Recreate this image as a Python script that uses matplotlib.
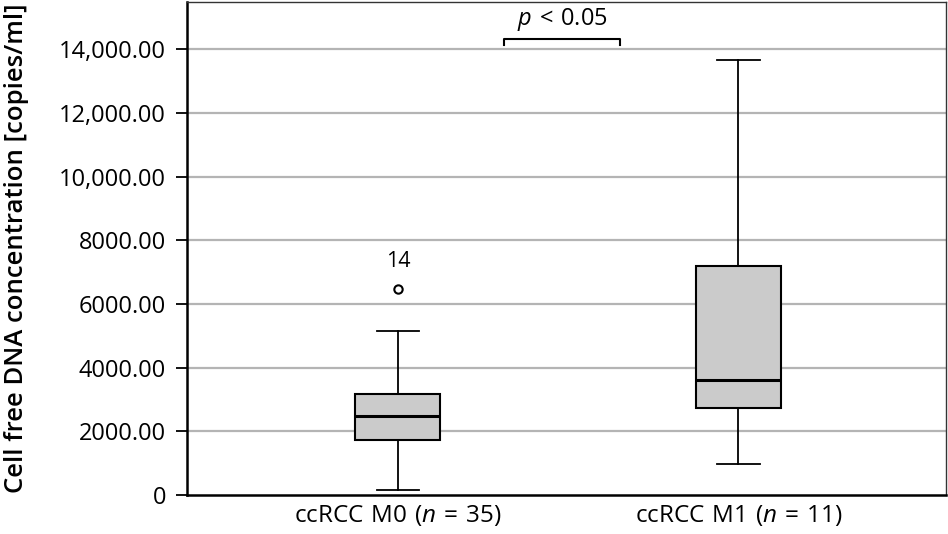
import matplotlib
matplotlib.use("Agg")
import matplotlib.pyplot as plt
from matplotlib.ticker import FuncFormatter

# box statistics
groups = ["ccRCC M0", "ccRCC M1"]
group_n = [35, 11]
whisker_low = [160, 970]
q1 = [1730, 2730]
medians = [2480, 3610]
q3 = [3170, 7190]
whisker_high = [5150, 13650]
outliers = [[6470], []]
outlier_labels = [["14"], []]

y_ticks = [0, 2000, 4000, 6000, 8000, 10000, 12000, 14000]

plt.rcParams["font.family"] = ["Open Sans", "DejaVu Sans"]
plt.rcParams["mathtext.fontset"] = "custom"
plt.rcParams["mathtext.it"] = "Open Sans:italic"
plt.rcParams["mathtext.rm"] = "Open Sans"

SP = "\u2004"  # a bit wider than a normal space, the original font sets them loose

fig = plt.figure(figsize=(9.48, 5.34), dpi=100)
ax = fig.add_axes([0.197, 0.073, 0.801, 0.923])

stats = []
for i, name in enumerate(groups):
    stats.append({
        "label": name,
        "whislo": whisker_low[i],
        "q1": q1[i],
        "med": medians[i],
        "q3": q3[i],
        "whishi": whisker_high[i],
        "fliers": outliers[i],
    })

positions = [1, 2]
ax.bxp(
    stats,
    positions=positions,
    widths=0.25,
    capwidths=0.125,
    patch_artist=True,
    boxprops=dict(facecolor="#cbcbcb", edgecolor="black", linewidth=1.5),
    medianprops=dict(color="black", linewidth=2.2),
    whiskerprops=dict(color="black", linewidth=1.3),
    capprops=dict(color="black", linewidth=1.3),
    flierprops=dict(marker="o", markersize=6, markerfacecolor="white",
                    markeredgecolor="black", markeredgewidth=1.5),
    zorder=3,
)

for pos, vals, labs in zip(positions, outliers, outlier_labels):
    for v, lab in zip(vals, labs):
        ax.annotate(lab, (pos, v), xytext=(0, 12), textcoords="offset points",
                    ha="center", va="bottom", fontsize=15.5)

ax.set_xlim(0.38, 2.61)
ax.set_ylim(0, 15480)
ax.set_yticks(y_ticks)
ax.yaxis.set_major_formatter(FuncFormatter(
    lambda v, _: "0" if v == 0 else (f"{v:,.2f}" if v >= 10000 else f"{v:.2f}")))
ax.set_xticks(positions)
ax.set_xticklabels([f"{g.replace(' ', SP)}{SP}($\\mathit{{n}}${SP}={SP}{n})"
                    for g, n in zip(groups, group_n)])
ax.tick_params(axis="y", labelsize=17, length=8, width=1.3, direction="out", pad=7)
ax.tick_params(axis="x", labelsize=17.5, length=0, pad=6)

for v in y_ticks[1:]:
    ax.axhline(v, color="#b4b4b4", linewidth=1.6, zorder=1)

for side in ["left", "bottom"]:
    ax.spines[side].set_linewidth(1.8)
for side in ["top", "right"]:
    ax.spines[side].set_linewidth(1.0)
    ax.spines[side].set_color("#333333")

ax.set_ylabel("Cell free DNA concentration [copies/ml]", fontsize=18.5,
              fontweight="semibold")
ax.yaxis.set_label_coords(-0.208, 0.5)

# significance bracket
bx0, bx1 = 1.313, 1.652
by, tick = 14330, 200
ax.plot([bx0, bx0, bx1, bx1], [by - tick, by, by, by - tick], color="black",
        linewidth=1.5, clip_on=False)
ax.text((bx0 + bx1) / 2, by + 170, f"$\\mathit{{p}}${SP}<{SP}0.05", ha="center",
        va="bottom", fontsize=17)

fig.savefig("out.png", dpi=100)
